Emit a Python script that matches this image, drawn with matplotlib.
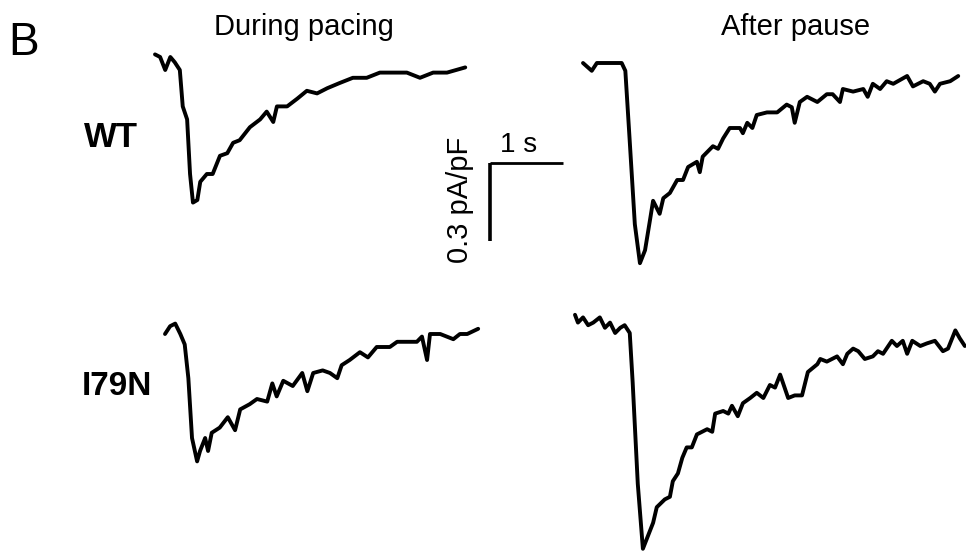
import matplotlib
matplotlib.use("Agg")
import matplotlib.pyplot as plt
import numpy as np

# ---- data: time (s) and current (pA/pF, relative to pre-pulse level) ----
wt_pacing_t = [0.00, 0.07, 0.14, 0.21, 0.27, 0.34, 0.38, 0.44, 0.48, 0.52, 0.58, 0.62, 0.71, 0.79,
               0.89, 0.99, 1.07, 1.16, 1.30, 1.44, 1.53, 1.62, 1.67, 1.81, 1.95, 2.08, 2.22, 2.36,
               2.53, 2.71, 2.90, 3.08, 3.26, 3.45, 3.63, 3.81, 4.00, 4.25]
wt_pacing_i = [0.01, 0.00, -0.05, 0.00, -0.02, -0.05, -0.19, -0.24, -0.45, -0.56, -0.55, -0.48, -0.45, -0.45,
               -0.38, -0.37, -0.33, -0.32, -0.27, -0.24, -0.21, -0.25, -0.19, -0.19, -0.16, -0.13, -0.14, -0.12,
               -0.10, -0.08, -0.08, -0.06, -0.06, -0.06, -0.08, -0.06, -0.06, -0.04]

wt_pause_t = [0.00, 0.12, 0.19, 0.33, 0.44, 0.53, 0.58, 0.64, 0.71, 0.78, 0.85, 0.92, 0.96, 1.05, 1.10,
              1.19, 1.29, 1.37, 1.44, 1.56, 1.60, 1.64, 1.78, 1.85, 1.92, 2.01, 2.15, 2.19, 2.25, 2.32,
              2.38, 2.52, 2.66, 2.79, 2.86, 2.90, 2.97, 3.07, 3.21, 3.34, 3.42, 3.52, 3.56, 3.70, 3.84,
              3.90, 3.97, 4.07, 4.16, 4.25, 4.44, 4.52, 4.66, 4.75, 4.82, 4.89, 5.03, 5.14]
wt_pause_i = [0.00, -0.03, 0.00, 0.00, 0.00, 0.00, -0.03, -0.30, -0.62, -0.77, -0.72, -0.60, -0.53, -0.58, -0.52,
              -0.50, -0.45, -0.45, -0.40, -0.38, -0.42, -0.36, -0.32, -0.33, -0.29, -0.25, -0.25, -0.27, -0.23, -0.25,
              -0.20, -0.19, -0.19, -0.16, -0.17, -0.23, -0.15, -0.13, -0.15, -0.12, -0.12, -0.15, -0.10, -0.11, -0.10,
              -0.13, -0.08, -0.10, -0.07, -0.08, -0.05, -0.09, -0.07, -0.08, -0.11, -0.08, -0.07, -0.05]

i79n_pacing_t = [0.00, 0.07, 0.14, 0.21, 0.27, 0.32, 0.37, 0.44, 0.48, 0.55, 0.59, 0.64, 0.75, 0.86, 0.96,
                 1.03, 1.16, 1.26, 1.40, 1.47, 1.53, 1.62, 1.75, 1.88, 1.95, 2.03, 2.16, 2.26, 2.36, 2.42,
                 2.53, 2.67, 2.78, 2.90, 3.08, 3.18, 3.32, 3.45, 3.52, 3.59, 3.63, 3.77, 3.95, 4.04, 4.14, 4.29]
i79n_pacing_i = [0.00, 0.03, 0.04, 0.00, -0.04, -0.17, -0.40, -0.49, -0.45, -0.40, -0.45, -0.38, -0.36, -0.32, -0.37,
                 -0.29, -0.27, -0.25, -0.26, -0.19, -0.24, -0.18, -0.20, -0.15, -0.22, -0.15, -0.14, -0.15, -0.17, -0.12,
                 -0.10, -0.07, -0.09, -0.05, -0.05, -0.03, -0.03, -0.03, -0.01, -0.10, 0.00, 0.00, -0.02, 0.00, 0.00, 0.02]

i79n_pause_t = [0.00, 0.04, 0.11, 0.18, 0.25, 0.34, 0.41, 0.48, 0.55, 0.62, 0.68, 0.75, 0.79, 0.86, 0.93,
                1.00, 1.07, 1.12, 1.23, 1.30, 1.34, 1.41, 1.47, 1.53, 1.60, 1.67, 1.81, 1.88, 1.92, 2.03,
                2.10, 2.15, 2.23, 2.30, 2.40, 2.49, 2.58, 2.67, 2.74, 2.81, 2.92, 3.01, 3.11, 3.19, 3.32,
                3.36, 3.45, 3.59, 3.67, 3.73, 3.81, 3.88, 3.97, 4.08, 4.15, 4.22, 4.34, 4.41, 4.49, 4.55,
                4.62, 4.73, 4.82, 4.93, 5.04, 5.11, 5.21, 5.27, 5.34]
i79n_pause_i = [0.02, -0.01, 0.01, -0.02, -0.01, 0.01, -0.03, -0.01, -0.05, -0.03, -0.02, -0.05, -0.24, -0.63, -0.88,
                -0.83, -0.78, -0.72, -0.69, -0.68, -0.62, -0.59, -0.53, -0.49, -0.49, -0.44, -0.42, -0.43, -0.36, -0.35,
                -0.36, -0.33, -0.37, -0.32, -0.30, -0.28, -0.30, -0.25, -0.26, -0.21, -0.30, -0.29, -0.29, -0.20, -0.17,
                -0.15, -0.16, -0.14, -0.17, -0.13, -0.11, -0.12, -0.15, -0.14, -0.12, -0.13, -0.08, -0.10, -0.08, -0.13,
                -0.08, -0.10, -0.09, -0.08, -0.12, -0.11, -0.04, -0.07, -0.10]

col_titles = ["During pacing", "After pause"]
row_labels = ["WT", "I79N"]
scale_time = 1.0      # s
scale_current = 0.3   # pA/pF

# ---- layout (pixel scale derived from the scale bar) ----
W, H = 966, 554
PX_S = 73.0     # px per second
PX_I = 260.0    # px per pA/pF

fig = plt.figure(figsize=(W / 100, H / 100), dpi=100)
ax = fig.add_axes([0, 0, 1, 1])
ax.set_xlim(0, W / PX_S)
ax.set_ylim(-H / PX_I, 0)
ax.axis("off")

def place(px, py):
    return px / PX_S, -py / PX_I

traces = [
    (wt_pacing_t, wt_pacing_i, (155, 57)),
    (wt_pause_t, wt_pause_i, (583, 63)),
    (i79n_pacing_t, i79n_pacing_i, (165, 334)),
    (i79n_pause_t, i79n_pause_i, (575, 320)),
]
for t, i, (px, py) in traces:
    ox, oy = place(px, py)
    ax.plot(np.asarray(t) + ox, np.asarray(i) + oy, color="black", lw=2.8,
            solid_joinstyle="round", solid_capstyle="round")

# scale bar
sx, sy = place(490, 163)
ax.plot([sx, sx + scale_time], [sy, sy], color="black", lw=2.0, solid_capstyle="butt")
ax.plot([sx, sx], [sy, sy - scale_current], color="black", lw=2.6, solid_capstyle="butt")

fam = ["Liberation Sans", "DejaVu Sans"]
ax.text(*place(519, 152), f"{scale_time:g} s", fontsize=20, family=fam, ha="center", va="baseline")
ax.text(*place(460, 200), f"{scale_current:g} pA/pF", fontsize=21, family=fam, rotation=90,
        ha="center", va="center")

ax.text(*place(304, 35), col_titles[0], fontsize=21, family=fam, ha="center", va="baseline")
ax.text(*place(796, 35), col_titles[1], fontsize=21, family=fam, ha="center", va="baseline")
ax.text(*place(8, 55), "B", fontsize=33, family=fam, ha="left", va="baseline")
ax.text(*place(84, 147), row_labels[0], fontsize=25, family=fam, weight="bold", ha="left", va="baseline")
ax.text(*place(82, 395), row_labels[1], fontsize=24, family=fam, weight="bold", ha="left", va="baseline")

fig.savefig("out.png", dpi=100)
